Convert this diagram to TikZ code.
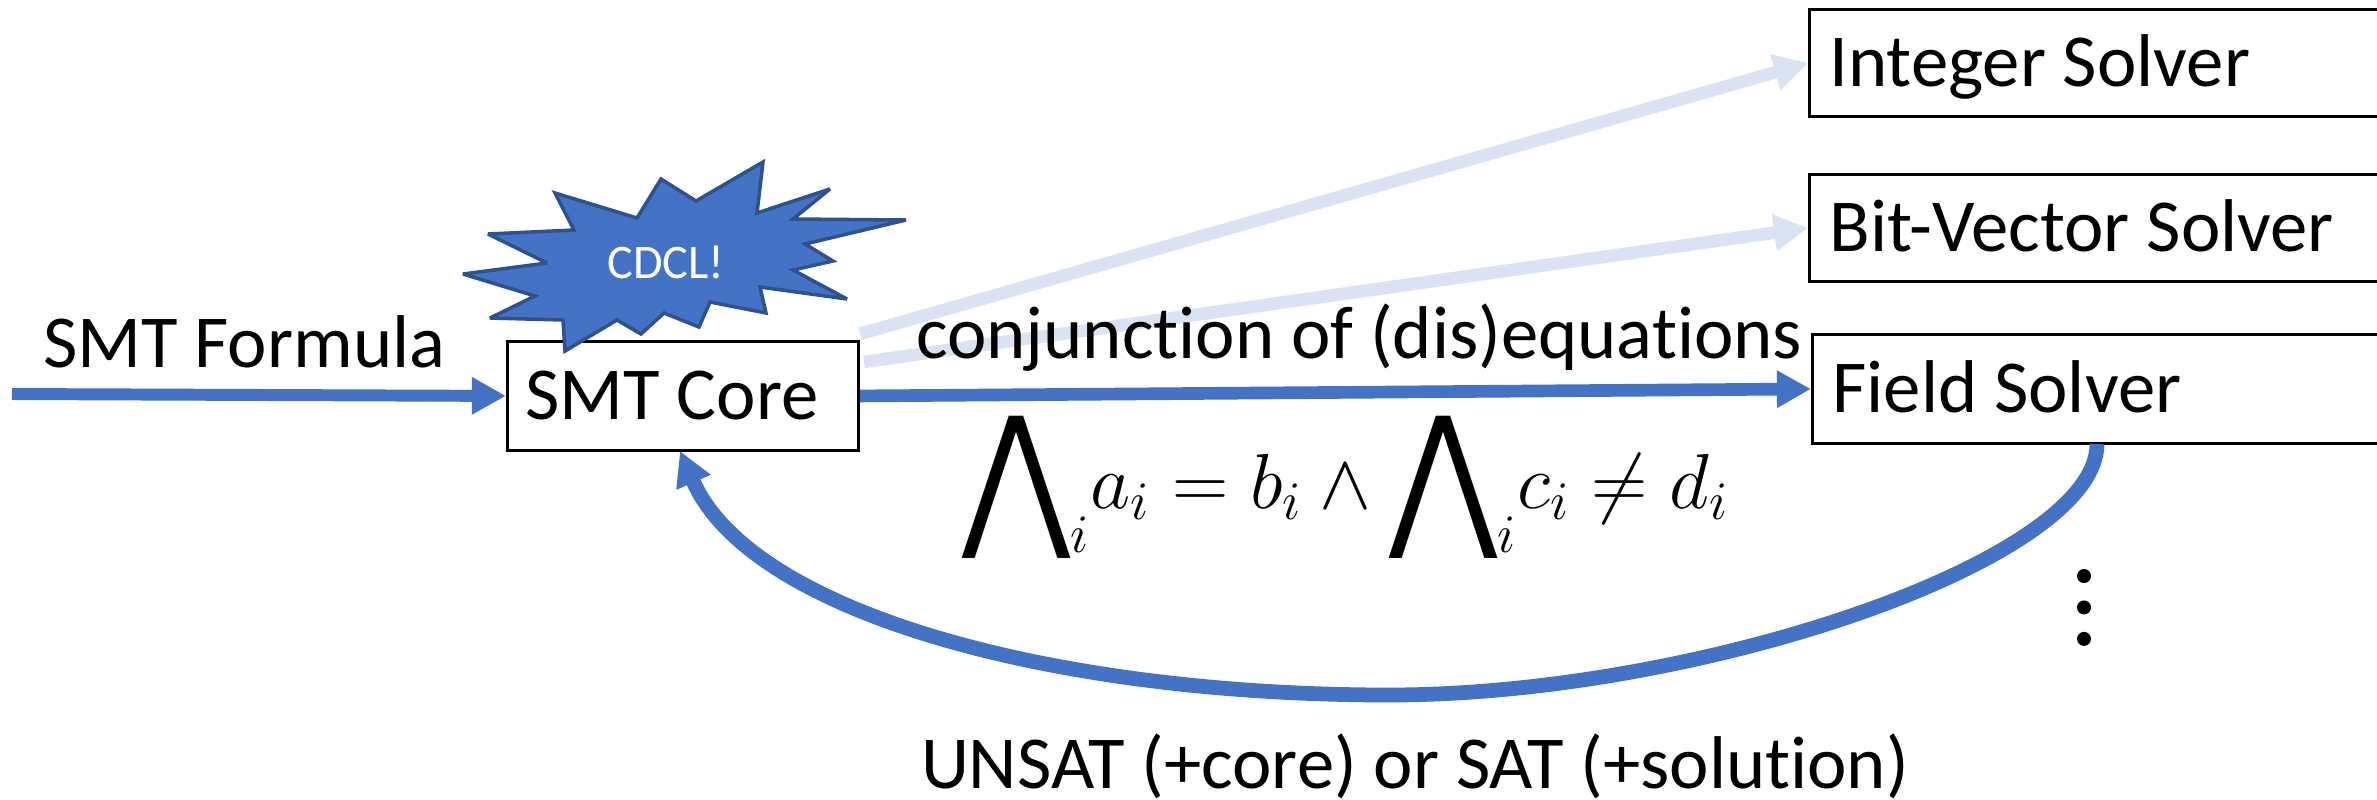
\documentclass[tikz,border=0pt]{standalone}
\usepackage{amsmath, amssymb}
\usepackage{graphicx}
\usepackage{fontspec}
\setmainfont{Carlito}[Ligatures=NoCommon]
\newfontfamily\opfont{DejaVu Sans}
\usetikzlibrary{arrows.meta, positioning}
\definecolor{coreblue}{HTML}{4472C4}
\definecolor{paleblue}{HTML}{DAE3F3}
\definecolor{starline}{HTML}{2F528F}
\newcommand{\bigand}{\raisebox{\dimexpr\depth-13.3pt}[0pt][11pt]{\resizebox*{28.7pt}{37.8pt}{\opfont ⋀}}}

\begin{document}
\begin{tikzpicture}[
  x=0.01cm, y=-0.01cm,
  box/.style = {
    draw=black, line width=0.8pt, fill=white, anchor=north west,
    minimum height=1.09cm, inner xsep=0.2cm, inner ysep=0pt,
    align=flush left, text height=13.5pt, text depth=0pt, font=\fontsize{21.25}{24}\selectfont
  },
  solver/.style = { box, text width=5.6cm, minimum height=1.07cm },
  lbl/.style = { font=\fontsize{21.25}{24}\selectfont, inner sep=0pt },
  arr/.style = { -{Triangle[length=9.7pt,width=10pt]}, line width=3.4pt, draw=coreblue },
  pale/.style = { arr, draw=paleblue, line width=3.6pt },
  dot/.style = { circle, fill=black, minimum size=0.14cm, inner sep=0pt }
]
\useasboundingbox (0,0) rectangle (2377,799);

\node[box, text width=3.15cm, inner xsep=0.18cm] (core) at (506,340) {SMT Core};
\node[solver] (integer) at (1808,8) {Integer Solver};
\node[solver, below=0.55cm of integer.south west, anchor=north west] (bitvec) {Bit-Vector Solver};
\node[solver, minimum height=1.09cm] (field) at (1811,333) {Field Solver};

\coordinate (input) at (12,394);
\coordinate (fieldout) at (2097,444);
\coordinate (coreout) at (680,451);

% pale arrows go behind the burst
\draw[pale] ([yshift=0.62cm]core.east) -- (integer.west);
\draw[pale] ([xshift=0.04cm, yshift=0.34cm]core.east) -- (bitvec.west);
\draw[arr] (input) -- node[lbl, pos=0.47, above=0.21cm]{SMT Formula} (core.west);
\draw[arr, line width=3.6pt] (core.east) -- node[lbl, pos=0.525, above=0.15cm]{conjunction of (dis)equations} (field.west);
\draw[arr, line width=4.2pt] (fieldout) .. controls (2097,560) and (1700,695) .. (1389,695)
  node[lbl, below=0.31cm, xshift=0.26cm] (unsat) {UNSAT (+core) or SAT (+solution)}
  .. controls (1050,695) and (750,612) .. (coreout);

\draw[fill=coreblue, draw=starline, line width=1pt, miter limit=3]
  (555,193) -- (637,218) -- (661,179) -- (696,201) -- (763,162) -- (757,213) -- (830,189)
  -- (793,219) -- (906,220) -- (805,244) -- (833,261) -- (793,270) -- (847,299) -- (760,287)
  -- (766,313) -- (710,302) -- (699,327) -- (664,313) -- (641,334) -- (617,320) -- (565,351)
  -- (563,320) -- (490,318) -- (535,296) -- (463,274) -- (547,263) -- (488,234) -- (574,230) -- cycle;
\node[font=\fontsize{13.7}{15}\selectfont, text=white, inner sep=0pt] (cdcl) at (666,262) {CDCL!};

\node[lbl, font=\fontsize{20}{24}\selectfont, scale=1.07] (formula) at (1346,503)
  {$\bigand_{i} a_i = b_i \wedge \bigand_{i} c_i \neq d_i$};

\node[dot] (dota) at (2084,576) {};
\node[dot, below=0.16cm of dota] (dotb) {};
\node[dot, below=0.16cm of dotb] (dotc) {};

\end{tikzpicture}
\end{document}
